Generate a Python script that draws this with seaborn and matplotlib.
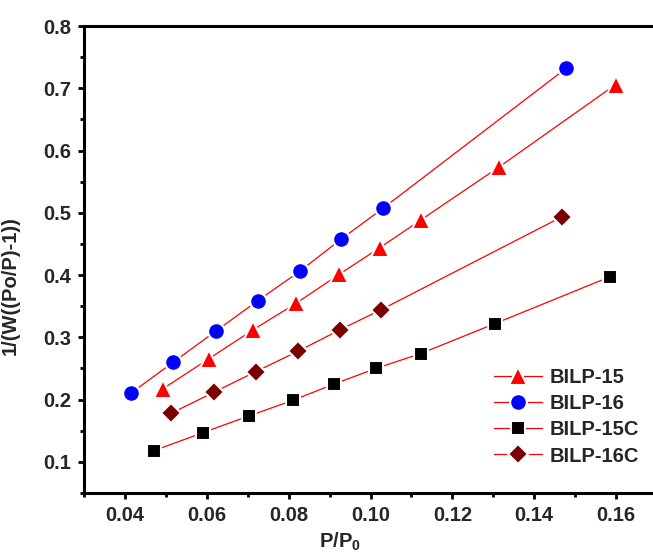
import matplotlib
matplotlib.use("Agg")
import matplotlib.pyplot as plt
import pandas as pd
import seaborn as sns
from matplotlib.ticker import MultipleLocator, FormatStrFormatter

# BET plot data
bilp15_x = [0.0492, 0.0606, 0.0713, 0.0819, 0.0923, 0.1023, 0.1124, 0.1313, 0.1599]
bilp15_y = [0.217, 0.266, 0.312, 0.355, 0.401, 0.444, 0.489, 0.573, 0.706]

bilp16_x = [0.0416, 0.0518, 0.0622, 0.0725, 0.0827, 0.0929, 0.1030, 0.1478]
bilp16_y = [0.211, 0.260, 0.310, 0.359, 0.406, 0.458, 0.507, 0.732]

bilp15c_x = [0.0471, 0.0591, 0.0704, 0.0811, 0.0911, 0.1013, 0.1123, 0.1304, 0.1584]
bilp15c_y = [0.118, 0.147, 0.174, 0.199, 0.225, 0.250, 0.274, 0.322, 0.397]

bilp16c_x = [0.0513, 0.0618, 0.0720, 0.0824, 0.0925, 0.1025, 0.1469]
bilp16c_y = [0.178, 0.212, 0.245, 0.278, 0.312, 0.344, 0.494]

series = [
    ("BILP-15", bilp15_x, bilp15_y, "^", "#ff0000", 13),
    ("BILP-16", bilp16_x, bilp16_y, "o", "#0000ff", 12),
    ("BILP-15C", bilp15c_x, bilp15c_y, "s", "#000000", 10.5),
    ("BILP-16C", bilp16c_x, bilp16c_y, "D", "#7a0000", 10.5),
]

sns.set_theme(style="ticks")
plt.rcParams["font.family"] = ["Liberation Sans", "DejaVu Sans"]
plt.rcParams["font.weight"] = "bold"
plt.rcParams["mathtext.fontset"] = "custom"
plt.rcParams["mathtext.rm"] = "Liberation Sans:bold"
plt.rcParams["mathtext.bf"] = "Liberation Sans:bold"

fig = plt.figure(figsize=(6.53, 5.59), dpi=100)
ax = fig.add_axes([84 / 653, 66 / 559, 573 / 653, 467 / 559])

for name, xs, ys, marker, color, size in series:
    df = pd.DataFrame({"x": xs, "y": ys})
    sns.lineplot(
        data=df, x="x", y="y", ax=ax, sort=False, color="#ff0000",
        linewidth=0.9, marker=marker, markersize=size,
        markerfacecolor=color, markeredgecolor="white",
        markeredgewidth=1.5, label=name,
    )

ax.set_xlim(0.03, 0.17)
ax.set_ylim(0.05, 0.8)
ax.xaxis.set_major_locator(MultipleLocator(0.02))
ax.xaxis.set_minor_locator(MultipleLocator(0.01))
ax.yaxis.set_major_locator(MultipleLocator(0.1))
ax.yaxis.set_minor_locator(MultipleLocator(0.05))
ax.xaxis.set_major_formatter(FormatStrFormatter("%.2f"))
ax.yaxis.set_major_formatter(FormatStrFormatter("%.1f"))

for side in ["left", "bottom", "top", "right"]:
    ax.spines[side].set_linewidth(2.2)
    ax.spines[side].set_color("black")

ax.tick_params(axis="both", which="major", direction="out", length=4.5,
               width=2, labelsize=14.5, pad=5, color="black")
ax.tick_params(axis="both", which="minor", direction="out", length=3,
               width=2, color="black")
for lab in ax.get_xticklabels() + ax.get_yticklabels():
    lab.set_fontweight("bold")

ax.set_xlabel(r"P/P$_\mathbf{0}$", fontsize=14.5, fontweight="bold")
ax.set_ylabel("1/(W((Po/P)-1))", fontsize=14.5, fontweight="bold")
ax.xaxis.set_label_coords(0.447, -0.08)
ax.yaxis.set_label_coords(-0.113, 0.445)

leg = ax.legend(loc="lower right", bbox_to_anchor=(1.0, 0.02), frameon=False,
                handlelength=2.4, handletextpad=0.35, labelspacing=0.36,
                prop={"size": 14.5, "weight": "bold"})

fig.savefig("out.png", dpi=100)
